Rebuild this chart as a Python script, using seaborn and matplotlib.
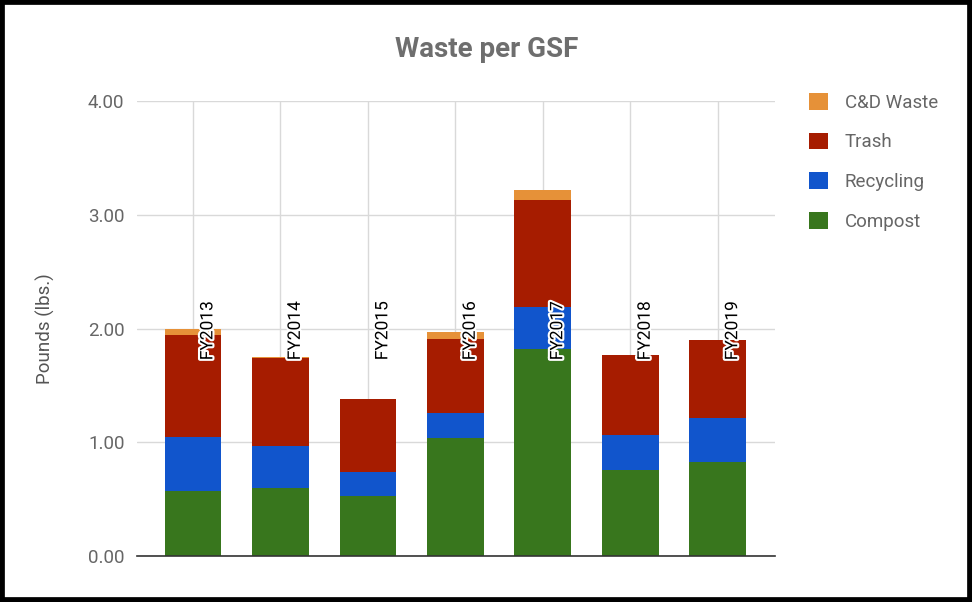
import numpy as np
import pandas as pd
import seaborn as sns
import matplotlib.pyplot as plt
import matplotlib.patheffects as pe
from matplotlib.patches import Patch, Rectangle

# data (lbs per GSF)
years = ['FY2013', 'FY2014', 'FY2015', 'FY2016', 'FY2017', 'FY2018', 'FY2019']
compost = [0.57, 0.60, 0.53, 1.04, 1.82, 0.76, 0.83]
recycling = [0.48, 0.37, 0.21, 0.22, 0.37, 0.30, 0.38]
trash = [0.89, 0.77, 0.64, 0.65, 0.94, 0.71, 0.69]
cd_waste = [0.06, 0.01, 0.00, 0.06, 0.09, 0.00, 0.00]

series = ['Compost', 'Recycling', 'Trash', 'C&D Waste']
colors = {'Compost': '#38761d', 'Recycling': '#1155cc',
          'Trash': '#a61c00', 'C&D Waste': '#e69138'}

df = pd.DataFrame({'Year': years, 'Compost': compost, 'Recycling': recycling,
                   'Trash': trash, 'C&D Waste': cd_waste})
# cumulative tops for stacking (draw tallest first)
cum = df[series].cumsum(axis=1)
cum['Year'] = df['Year']

sns.set_style('white')
plt.rcParams['font.family'] = ['Roboto', 'DejaVu Sans']

fig = plt.figure(figsize=(9.72, 6.02), dpi=100)
ax = fig.add_axes([0.141, 0.0764, 0.656, 0.7558])

for s in reversed(series):
    sns.barplot(data=cum, x='Year', y=s, color=colors[s], saturation=1,
                width=0.65, ax=ax, linewidth=0, zorder=2)

ax.set_ylim(0, 4)
ax.set_xlim(-0.64, 6.65)
ax.set_yticks([0, 1, 2, 3, 4])
ax.set_yticklabels(['%.2f' % v for v in [0, 1, 2, 3, 4]])
ax.set_axisbelow(True)
ax.grid(True, axis='both', color='#d9d9d9', linewidth=1)
ax.tick_params(axis='y', length=0, pad=9, labelsize=13.5, labelcolor='#666666')
ax.tick_params(axis='x', length=0, labelbottom=False)
for sp in ['top', 'right', 'left']:
    ax.spines[sp].set_visible(False)
ax.spines['bottom'].set_color('#333333')
ax.spines['bottom'].set_linewidth(1.2)
ax.spines['bottom'].set_zorder(3)
ax.set_xlabel('')
ax.set_ylabel('Pounds (lbs.)', fontsize=13.5, color='#555555')
ax.yaxis.set_label_coords(-0.128, 0.5)

# year labels drawn inside the plot, rotated, with white halo
for i, yr in enumerate(years):
    ax.text(i + 0.17, 1.98, yr, rotation=90, ha='center', va='center',
            fontsize=12.5, color='black', zorder=5,
            path_effects=[pe.withStroke(linewidth=3, foreground='white')])

fig.text(0.501, 0.918, 'Waste per GSF', ha='center', va='center',
         fontsize=20, fontweight='bold', color='#6e6e6e')

handles = [Patch(facecolor=colors[s], edgecolor='none', label=s) for s in reversed(series)]
leg = fig.legend(handles=handles, loc='upper left', bbox_to_anchor=(0.815, 0.874),
                 frameon=False, fontsize=13.5, handlelength=1.0, handleheight=1.0,
                 handletextpad=0.9, labelspacing=1.12)
for t in leg.get_texts():
    t.set_color('#666666')

fig.patches.append(Rectangle((0, 0), 1, 1, transform=fig.transFigure, fill=False,
                             edgecolor='black', linewidth=7, zorder=10))

fig.savefig('out.png', dpi=100)
